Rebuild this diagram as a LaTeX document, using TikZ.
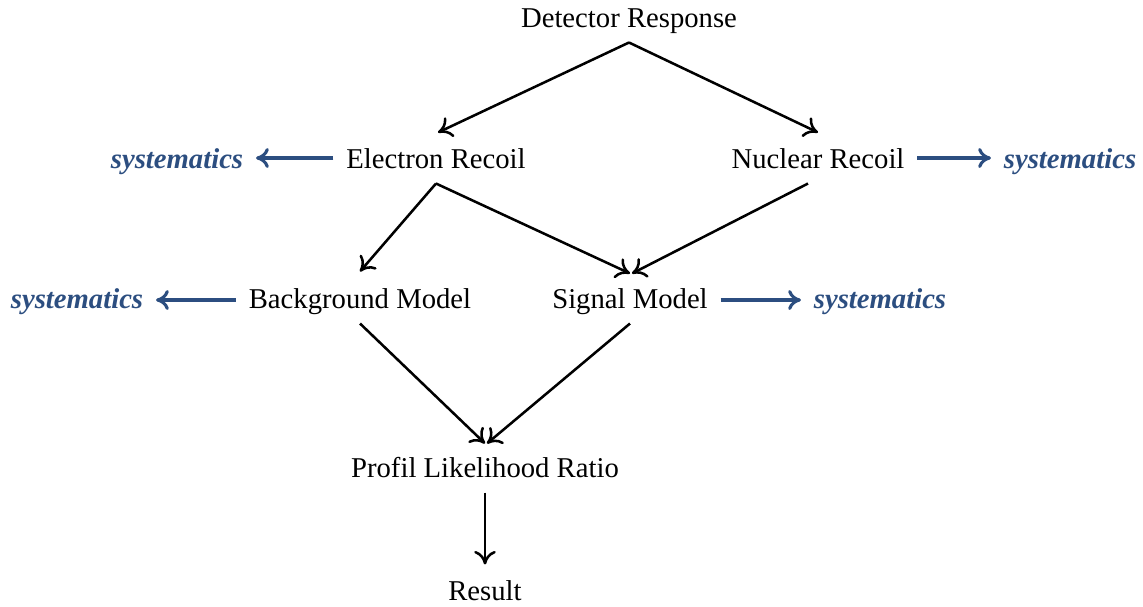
\documentclass[tikz,border=0pt]{standalone}
\usepackage{fontspec}
\setmainfont{Liberation Serif}
\usepackage{xcolor}
\usetikzlibrary{arrows.meta}
\definecolor{sysblue}{RGB}{44,78,128}
\tikzset{
  lbl/.style={inner xsep=9pt,inner ysep=5.7pt,text height=14.3pt,text depth=4.5pt,font=\fontsize{20.4}{24}\selectfont},
  sys/.style={lbl,text=sysblue,font=\fontsize{20.4}{24}\selectfont\bfseries\itshape},
  flow/.style={line width=1.8pt,-{Computer Modern Rightarrow[length=3.4mm,width=5.4mm]}},
  sysar/.style={line width=2.2pt,sysblue,-{Computer Modern Rightarrow[length=3.2mm,width=5mm]}}
}

\begin{document}
\begin{tikzpicture}[x=0.025cm,y=-0.025cm]
\useasboundingbox (0,0) rectangle (1143,606);
\node[lbl] (det) at (629,21) {Detector Response};
\node[lbl] (er) at (436,162) {Electron Recoil};
\node[lbl] (nr) at (818,162) {Nuclear Recoil};
\node[sys] (syser) at (177,162) {systematics};
\node[sys] (sysnr) at (1070,162) {systematics};
\node[lbl] (bg) at (360,302) {Background Model};
\node[lbl] (sm) at (630,302) {Signal Model};
\node[sys] (sysbg) at (77,302) {systematics};
\node[sys] (syssm) at (880,302) {systematics};
\node[lbl] (plr) at (485,471) {Profil Likelihood Ratio};
\node[lbl] (res) at (485,594) {Result};
\draw[flow] (det.south) -- ([xshift=0.5mm,yshift=2mm]er.north);
\draw[flow] (det.south) -- ([yshift=2mm]nr.north);
\draw[flow] (er.south) -- ([yshift=2.25mm]bg.north);
\draw[flow] (er.south) -- ([yshift=1.75mm]sm.north);
\draw[flow] ([xshift=-2.5mm]nr.south) -- ([xshift=0.5mm,yshift=1.75mm]sm.north);
\draw[flow] (bg.south) -- ([yshift=1.5mm]plr.north);
\draw[flow] (sm.south) -- ([xshift=0.5mm,yshift=1.5mm]plr.north);
\draw[flow] (plr.south) -- ([yshift=2mm]res.north);
\draw[sysar] ([yshift=1mm]er.west) -- ([yshift=1mm]syser.east);
\draw[sysar] ([yshift=1mm]nr.east) -- ([yshift=1mm]sysnr.west);
\draw[sysar] ([yshift=0.5mm]bg.west) -- ([yshift=0.5mm]sysbg.east);
\draw[sysar] ([yshift=0.5mm]sm.east) -- ([yshift=0.5mm]syssm.west);
\end{tikzpicture}
\end{document}
